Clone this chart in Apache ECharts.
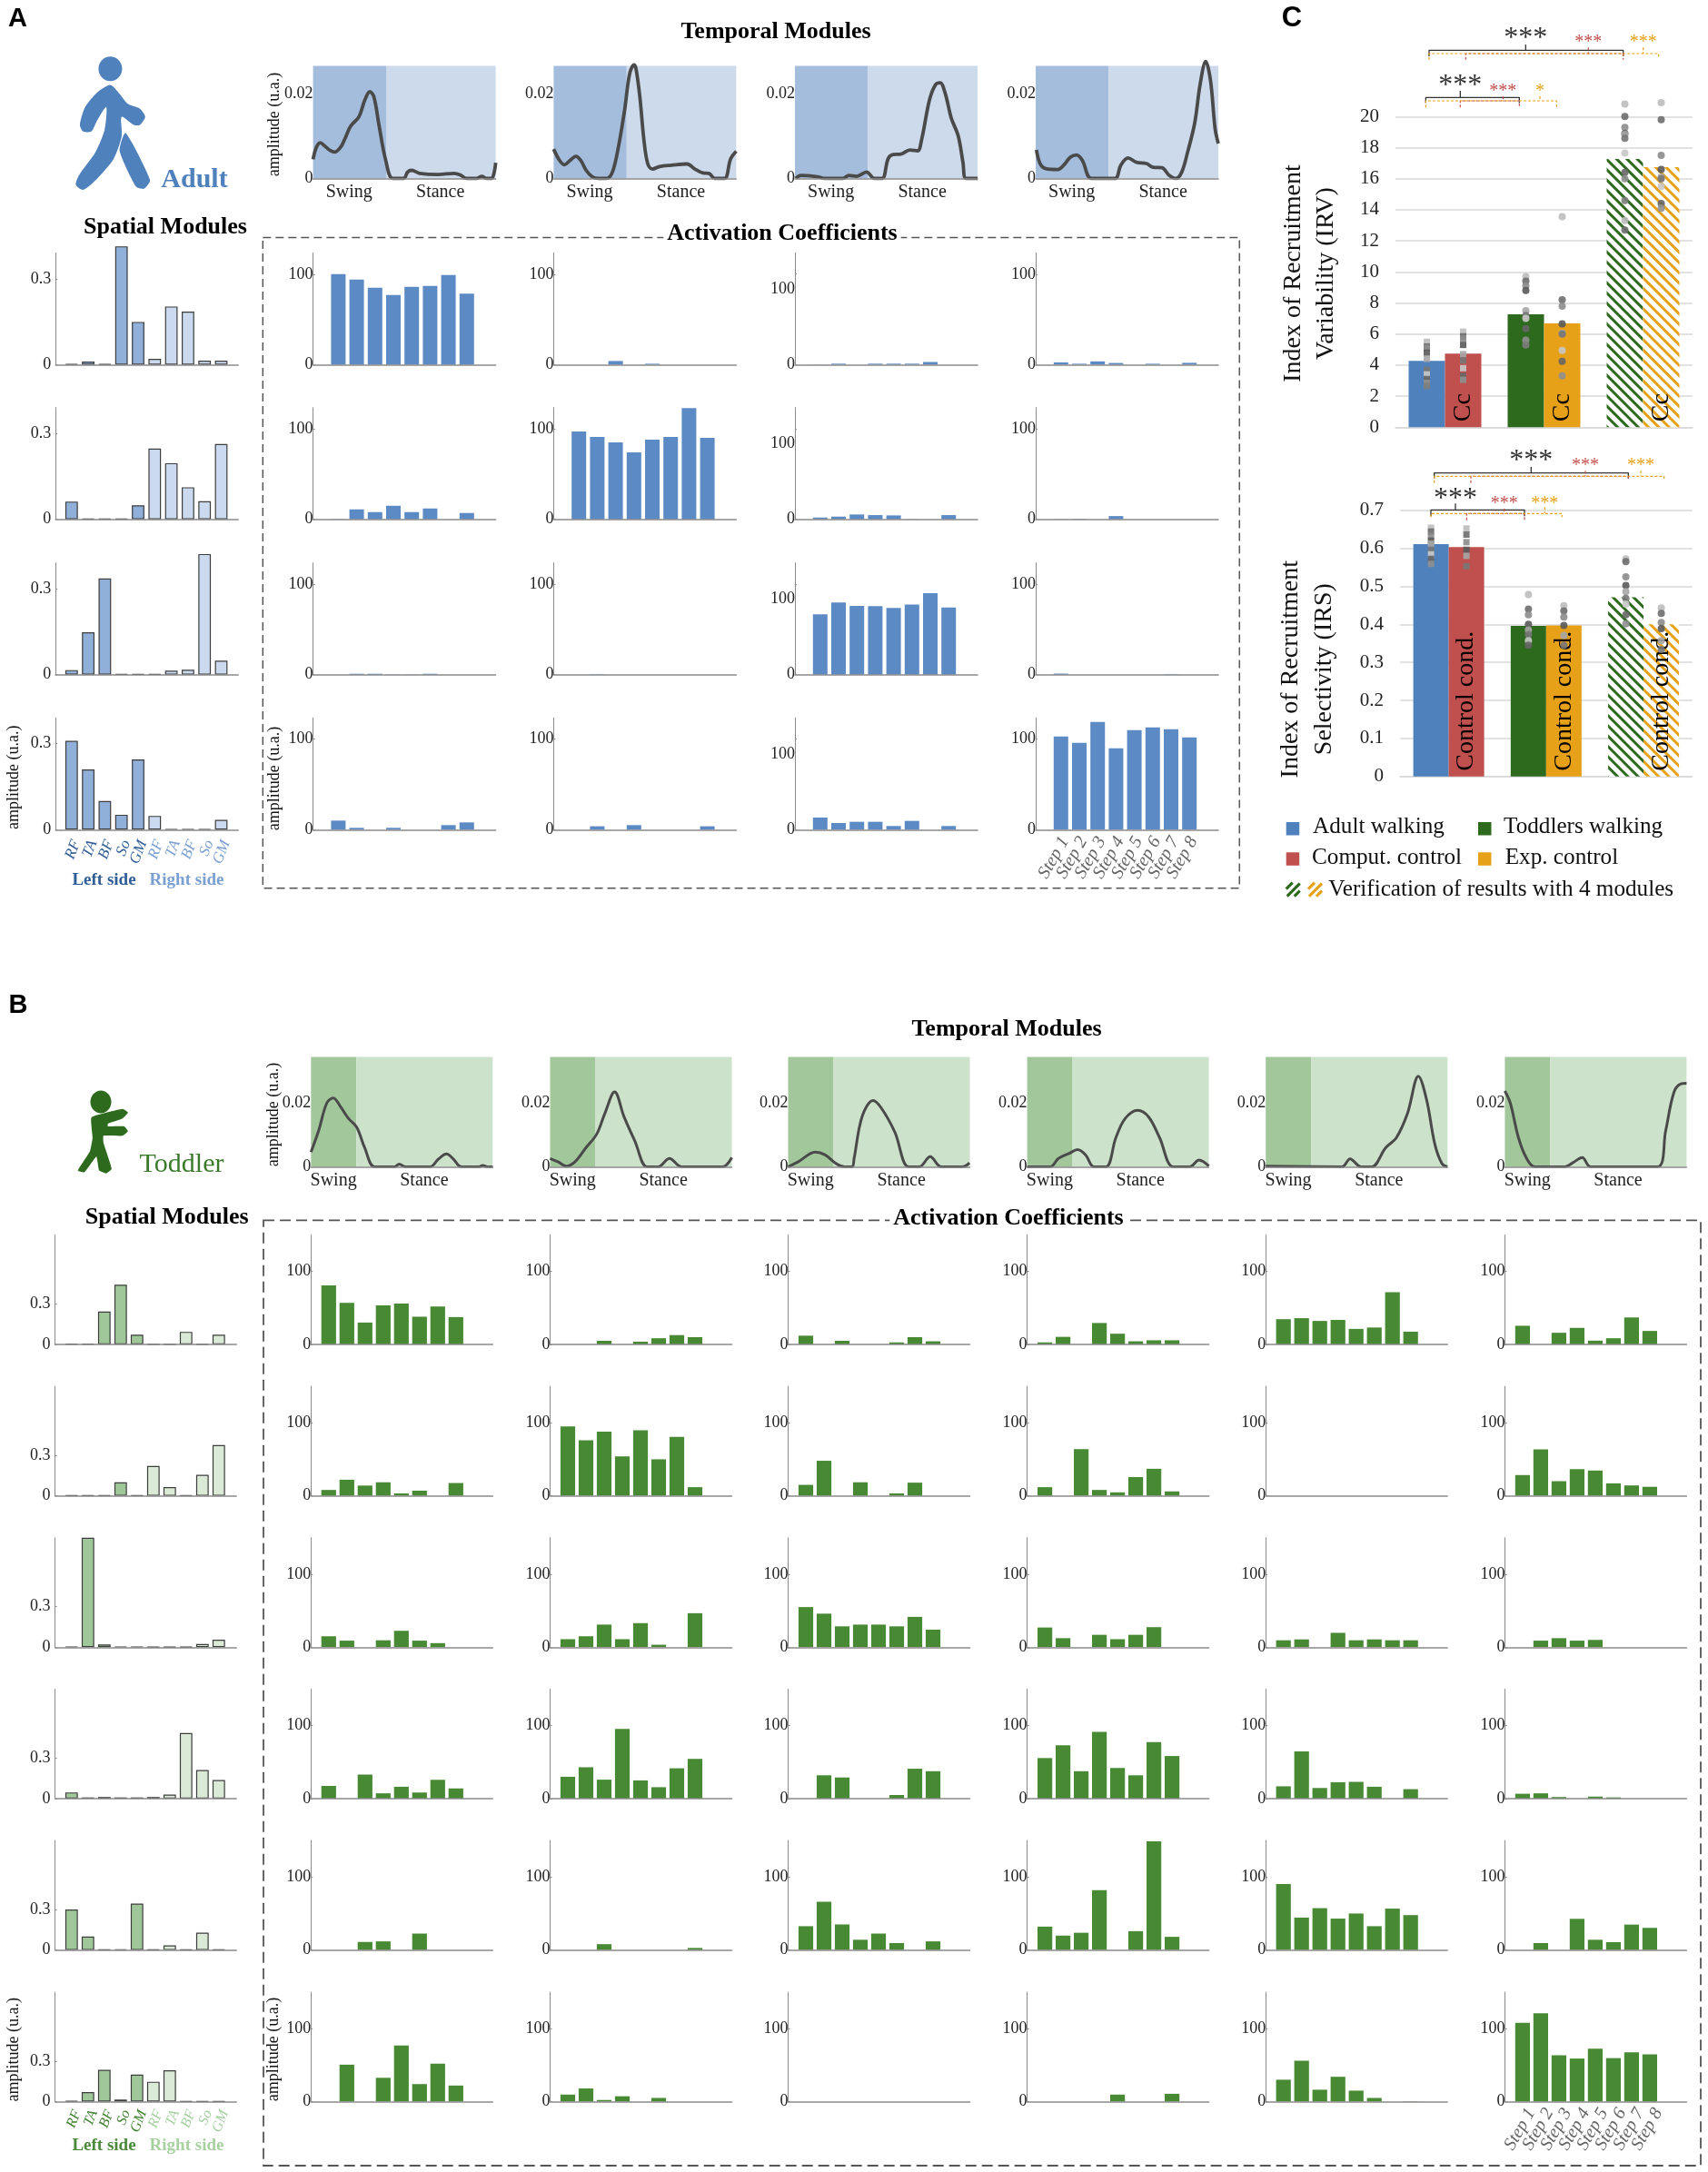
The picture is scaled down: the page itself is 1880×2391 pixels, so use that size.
<!DOCTYPE html>
<html><head><meta charset="utf-8">
<style>html,body{margin:0;padding:0;background:#fff}#c{width:1880px;height:2391px}</style>
<script src="https://cdn.jsdelivr.net/npm/echarts@6/dist/echarts.min.js"></script>
</head><body><div id="c"></div>
<script>
// ---------- DATA ----------
const muscleLabels = ['RF','TA','BF','So','GM','RF','TA','BF','So','GM'];
const stepLabels = ['Step 1','Step 2','Step 3','Step 4','Step 5','Step 6','Step 7','Step 8'];
const phaseLabels = ['Swing','Stance'];

const adultSpatial = [
 [.002,.011,.002,.413,.149,.02,.203,.185,.014,.014],
 [.062,.002,.002,.002,.049,.247,.196,.112,.063,.263],
 [.016,.148,.336,.002,.002,.002,.014,.017,.421,.049],
 [.31,.21,.1,.052,.245,.048,.002,.002,.002,.034]
];
const adultActivation = [
 [[100,94,85,77,86,87,99,78.5],[0,0,4,0,1,0,0,0],[.3,1.3,0,1.3,1.3,1.3,3.5,0],[2.5,1,3.6,1.8,0,1,0,2]],
 [[.5,11,8,15,8,12,0,7],[97,91,85,74,88,91,123,90],[2.4,3.6,6.4,5.6,5.2,.4,0,5.6],[.3,.6,0,3.6,0,0,0,0]],
 [[0,1,1,.3,.3,1,0,0],[0,.5,0,0,0,0,0,0],[80,95.6,91,90.8,88.4,93,108,89],[1.2,0,0,0,0,0,.5,0]],
 [[10,2,0,2,0,0,5,8],[0,3.7,0,5,0,0,0,3.7],[16,8.8,10.4,10.4,4.8,11.6,0,4.8],[103,96,119,90,110,113,111,102]]
];
// temporal curves: [% of gait cycle, amplitude x 1000]
const adultTemporal = [
 [[0,4.5],[1.8,7.3],[4,8.4],[6.2,7.7],[9.6,6.5],[11.8,6.2],[15,7.3],[17.3,9.2],[20.6,12.3],[25.1,14.5],[28.4,18.5],[31.1,20.4],[33.3,19.2],[36.2,12.3],[39.6,4.6],[43.6,0],[49.6,0],[51.8,1.5],[54,1.9],[58.4,1.2],[68.4,.9],[77.3,1.2],[80.7,.8],[84,0],[89.6,0],[92.4,.5],[95.1,0],[97.8,0],[100,3.7]],
 [[0,6.9],[3.3,4.2],[6,3.2],[8.9,4.2],[12.2,5.2],[14.9,4.2],[17.8,1.9],[21.1,.4],[24.4,0],[28.9,0],[32.2,1.5],[35.6,7.7],[38.9,16.2],[41.6,24.6],[44,26.7],[45.1,25.8],[47.2,19.2],[49.4,9.2],[51.5,3.5],[54.1,2.2],[58,2.8],[64.5,3.1],[73.1,3.4],[77.4,2.2],[81.8,1.3],[85,1.2],[88.2,0],[93.6,0],[96.9,4.6],[100,6.4]],
 [[.4,0],[3.2,.7],[12.3,.4],[16.6,0],[26.3,0],[29.5,.7],[33.8,.5],[39.2,1.5],[43.5,0],[47.8,0],[51,4.6],[53.7,5.6],[58,5.7],[62.9,6.7],[67.2,6.5],[69.4,9.2],[73.7,18.5],[76.9,22],[79.5,22.5],[82.3,20],[85.6,14.2],[89.4,10],[92,3.8],[93.7,0],[100,0]],
 [[.4,6.7],[2.4,3.5],[5.6,2.3],[12.1,2.1],[15.3,3.1],[19,5],[22.4,5.5],[25.6,4.2],[30.4,0],[43.4,0],[46.6,3.1],[50.6,4.8],[55.2,3.8],[60.6,3.5],[64.2,2.6],[69.2,2.5],[72.9,.8],[76.8,0],[80,1.5],[83.2,6.2],[87.1,13.1],[90.1,22.3],[93.1,27.5],[95.7,23.1],[98.3,11.5],[100,8.2]]
];
const toddlerSpatial = [
 [.005,.005,.243,.442,.072,.003,.003,.093,.003,.072],
 [.004,.004,.004,.1,.004,.22,.065,.004,.155,.375],
 [.004,.81,.021,.004,.004,.003,.003,.003,.024,.055],
 [.046,.009,.012,.009,.009,.012,.03,.486,.211,.138],
 [.3,.1,.004,.005,.343,.004,.034,.004,.128,.004],
 [.004,.07,.235,.015,.2,.147,.232,.003,.003,.003]
];
const toddlerActivation = [
 [[81,57,30,53.5,56,38,52,37.5],[0,0,5,0,3.8,8.5,12.8,10],[12,0,5,0,0,2.8,10,4.3],[2.8,10.4,0,29.4,14.7,4.3,5.7,5.7],[34.6,36,32.2,33.6,21.3,23.2,71.6,17.5],[25.6,0,16,22.7,5.2,8.5,37,18.5]],
 [[8,22,14,18.5,3.3,7,0,17.5],[95,76,88,54,89.6,50,80.6,11.8],[15,48,0,18.5,0,3.3,18,0],[11.8,0,64,8,4.7,25.6,37,6],[0,0,0,0,0,0,0,0],[28.4,63.5,20,36.5,34.6,17,14.2,12.3]],
 [[15,9,0,9.5,22.5,9,5.6,0],[11,15,31,11,33,3.4,0,46.6],[55,46,28.6,31,31,28.6,41.6,24],[27,12.4,0,17,11,17,27.5,0],[9.5,10.7,0,19.7,9.5,10.7,9.5,9.5],[0,9,12.4,9,10,0,0,0]],
 [[17.4,0,33,7.3,16.3,8.4,25.8,14],[30,43,26,95.5,25,15.7,41.6,54.5],[0,32,29,0,0,5,41,37.6],[55.6,73,37.6,91.6,42,32,77.5,58.4],[16.9,64.6,14.6,22.5,23,16.3,0,13],[6.7,7.3,2.2,0,2.8,1.7,0,0]],
 [[0,0,11,11.8,0,22.5,0,0],[0,0,8,0,0,0,0,2.8],[32.6,66,35,14,22.5,9.5,0,11.8],[32,19.7,23.6,82,0,25.8,149,18],[90.4,44.4,57.3,43,50,32.6,56.7,47.8],[0,9.5,0,42.7,14,10.7,34.8,30.3]],
 [[0,50.6,0,32.6,77,24,52,22],[9.6,18,2.2,7.3,0,5,0,0],[0,0,0,0,0,0,0,0],[0,0,0,0,9.6,0,0,10.7],[30,56,16.3,34,15,5,0,.5],[108,121,63.5,59,72.5,59.6,67.4,64.6]]
];
const toddlerTemporal = [
 [[0,4.6],[4.2,11.3],[8.7,20],[12.3,21.6],[16.2,18.9],[20.7,15.1],[25.2,12.4],[29.6,5.9],[35,0],[46.1,0],[48.5,.8],[52.1,0],[65.6,0],[70.1,2.4],[74.6,4],[78.1,2.6],[82.7,0],[92.5,0],[94.6,.4],[97,0],[100,0]],
 [[0,2.6],[4.5,1.5],[9,.2],[13.6,1.5],[19.6,5.9],[25.6,10.2],[30.1,16.7],[35.5,23.5],[40.7,15.7],[46.7,8],[53.3,0],[59.4,0],[65.7,2.6],[72.3,0],[94.9,0],[100,2.9]],
 [[0,0],[5.4,1.5],[15,4.6],[20.4,3.7],[26.4,1],[31,0],[35.2,0],[36.3,2.6],[40.7,15.7],[46.7,20.8],[51.2,18.5],[58.7,10.9],[66.2,0],[72.2,0],[78.2,3.2],[84.2,0],[96.2,0],[99.8,1.2]],
 [[0,0],[12.7,0],[17.2,2.6],[23.2,4.2],[27.7,5.4],[32.2,3.7],[36.7,0],[43.4,0],[48.8,9.1],[53.9,15.1],[60.8,17.7],[66.9,15.6],[72.9,9.1],[80.4,0],[89.5,0],[94.6,2.1],[100,.2]],
 [[0,.2],[41.9,0],[46.4,2.5],[52.4,0],[58.4,0],[65.9,5.9],[71.9,9.1],[78,16.7],[84,28.4],[88.5,21.1],[93.1,7],[97,1],[100,0]],
 [[0,23.8],[3,20],[7.5,9.1],[12,2.6],[16.5,0],[33,0],[37.5,1.3],[42.6,2.9],[47.1,0],[84,0],[88.5,11.3],[93,23.3],[96.9,26],[100,26.2]]
];
const irvGroups = ['Adult','Toddler','Toddler 4 modules'];
const irvWalking = [4.27,7.27,17.27];
const irvControl = [4.74,6.69,16.74];
const irvDots = [
 [5.5,5.2,5.1,4.8,4.4,3.7,3.4,3.1,2.85,2.65],
 [6.15,5.85,5.7,5.3,4.7,4.3,3.8,3.3,3.05],
 [9.7,9.4,9.1,8.8,7.5,7.2,7,6.35,5.6,5.3],
 [13.55,8.2,7.8,6.65,6.05,6,4.95,4.25,3.3],
 [20.8,20,19.3,18.9,18.85,18.6,17.65,16.4,16,14.6,13.3,12.7],
 [20.9,19.8,17.5,16.6,16.1,16,15.5,14.4,14.1]
];
const irsWalking = [.611,.396,.471];
const irsControl = [.603,.397,.4];
const irsDots = [
 [.654,.644,.632,.62,.612,.596,.584,.572,.559],
 [.652,.636,.616,.596,.58,.553],
 [.478,.44,.425,.4,.385,.373,.357,.345],
 [.449,.435,.419,.397,.371,.345],
 [.572,.565,.525,.502,.486,.468,.453,.425,.401],
 [.443,.429,.405,.389,.357,.334]
];

// ---------- STYLE ----------
const SERIF = '"Liberation Serif","Times New Roman",serif';
const SANS = '"Liberation Sans",Arial,sans-serif';
const BLUE='#4F81BD', RED='#C0504D', GREEN='#2D6A1E', ORANGE='#E6A118';
const grids=[],xAxes=[],yAxes=[],series=[],graphic=[];

function addGrid(left,base,w,h,xAxis,yAxis){
  const i=grids.length;
  grids.push({left,top:base-h,width:w,height:h});
  xAxes.push(Object.assign({gridIndex:i,type:'value',axisLine:{onZero:false,lineStyle:{color:'#8a8a8a',width:1.5}},axisTick:{show:false},axisLabel:{show:false},splitLine:{show:false}},xAxis));
  yAxes.push(Object.assign({gridIndex:i,type:'value',min:0,axisLine:{show:true,onZero:false,lineStyle:{color:'#8a8a8a',width:1}},splitLine:{show:false}},yAxis));
  return i;
}
function yLab(vals,margin,size){return {customValues:vals,margin:margin,fontFamily:SERIF,fontSize:size||18,color:'#222'};}

function temporal(curve,left,base,w,h,swingEnd,labPct,maxY,c1,c2,lw){
  const i=addGrid(left,base,w,h,{min:0,max:100,z:5,axisLabel:{show:true,customValues:labPct,fontFamily:SERIF,fontSize:20,color:'#222',margin:5,hideOverlap:false,showMinLabel:true,showMaxLabel:true,formatter:v=>v<labPct[1]?phaseLabels[0]:phaseLabels[1]}},
    {max:maxY,axisLine:{show:false,onZero:false},axisTick:{show:false},axisLabel:yLab([0,.02],0)});
  series.push({type:'line',xAxisIndex:i,yAxisIndex:i,data:curve.map(p=>[p[0],p[1]/1000]),symbol:'none',smooth:.35,clip:false,z:4,
    lineStyle:{color:'#4a4a4a',width:lw},
    markArea:{silent:true,z:1,data:[[{xAxis:0,itemStyle:{color:c1}},{xAxis:swingEnd}],[{xAxis:swingEnd,itemStyle:{color:c2}},{xAxis:100}]]}});
}
function bars(vals,left,base,w,h,pitch,offset,barW,maxY,tickVals,color,fillFn,border,lab){
  const min=-offset/pitch;
  const i=addGrid(left,base,w,h,{min:min,max:min+w/pitch,z:3},
    {max:maxY,axisTick:{show:true,inside:true,length:2,customValues:tickVals,lineStyle:{color:'#8a8a8a'}},axisLabel:yLab(lab,border?5:0)});
  series.push({type:'bar',xAxisIndex:i,yAxisIndex:i,barWidth:barW,clip:false,
    data:vals.map((v,k)=>({value:[k,v],itemStyle:{color:fillFn?fillFn(k):color,borderColor:border||undefined,borderWidth:border?1.2:0}}))});
  return i;
}
function axisText(i,labels,dx,dy,rot,size,colorFn){
  series.push({type:'scatter',xAxisIndex:i,yAxisIndex:i,symbol:'circle',symbolSize:1,clip:false,silent:true,itemStyle:{color:'transparent'},
    data:labels.map((t,k)=>({value:[k,0],label:{show:true,formatter:t,position:[dx,dy],rotate:rot,align:'right',verticalAlign:'middle',opacity:1,
      fontFamily:SERIF,fontStyle:'italic',fontSize:size,color:colorFn(k)}}))});
}
function T(text,x,y,o){o=o||{};
  graphic.push({type:'text',x:x,y:y,rotation:o.rot||0,z:o.z||20,silent:true,style:{text:text,x:0,y:0,align:o.align||'center',verticalAlign:'middle',
    fontFamily:o.family||SERIF,fontSize:o.size||18,fontWeight:o.weight||'normal',fill:o.color||'#111',backgroundColor:o.bg,padding:o.pad}});
}
function L(points,color,width,dash,z,cap){
  graphic.push({type:'polyline',z:z||15,silent:true,shape:{points:points},style:{stroke:color,lineWidth:width,lineDash:dash||null,fill:null,lineCap:cap||'butt',lineJoin:'round'}});
}
function E(cx,cy,rx,ry,color){graphic.push({type:'ellipse',z:15,silent:true,shape:{cx,cy,rx,ry},style:{fill:color}});}
function P(points,color,smooth){graphic.push({type:'polygon',z:15,silent:true,shape:{points,smooth:smooth||0},style:{fill:color}});}
function dashedBox(x1,y1,x2,y2,width,dash){
  graphic.push({type:'rect',z:10,silent:true,shape:{x:x1,y:y1,width:x2-x1,height:y2-y1},style:{fill:null,stroke:'#555',lineWidth:width,lineDash:dash}});
}

// ---------- PANEL A ----------
const aCols=[344.6,609.4,875,1140], aBases=[401.4,571.7,742.7,913.3];
adultTemporal.forEach((c,j)=>temporal(c,aCols[j],196.4,201,124,40,[19.7,69.7],.0265,'#A4BDDD','#CCDAEC',3.8));
adultSpatial.forEach((r,k)=>{
  const i=bars(r,61.2,aBases[k],201,123,18.3,17.6,13.8,.39,[0,.3],null,n=>n<5?'#90AFD9':'#CBDAEE','#3d3d3d',[0,.3]);
  if(k===3) axisText(i,muscleLabels,6,13,68,17,n=>n<5?'#2F5D95':'#7AA0D2');
});
adultActivation.forEach((r,k)=>r.forEach((v,j)=>{
  const max=j===2?148:123.5;
  const i=bars(v,aCols[j],aBases[k],201,123,20.2,27.8,16,max,[0,j===2?120:100],'#5C8AC4',null,null,[0,100]);
  if(k===3&&j===3) axisText(i,stepLabels,5,10,60,20,()=>'#666');
}));
T('A',19.5,21,{family:SANS,weight:'bold',size:29,color:'#000'});
T('Temporal Modules',854,35.5,{weight:'bold',size:26,color:'#000'});
T('Spatial Modules',182,250.5,{weight:'bold',size:26,color:'#000'});
T('Activation Coefficients',861,257,{weight:'bold',size:26,color:'#000',bg:'#fff',pad:[0,4]});
T('Adult',214,198,{weight:'bold',size:30,color:BLUE});
T('amplitude (u.a.)',302.7,137,{rot:Math.PI/2,size:18});
T('amplitude (u.a.)',15.6,855.8,{rot:Math.PI/2,size:18});
T('amplitude (u.a.)',302,857,{rot:Math.PI/2,size:18,bg:'#fff'});
T('Left side',114.5,969.3,{weight:'bold',size:19,color:'#2F5D95'});
T('Right side',205.5,969.3,{weight:'bold',size:19,color:'#7AA0D2'});
dashedBox(289.3,261.4,1364.3,977.7,1.5,[9,5]);
// adult icon (outline traced in the figure's own pixel frame)
const Ax=p=>p.map(q=>[q[0]/2.24,q[1]/2.8]);
E(121.4,75.7,13,13.5,BLUE);
P(Ax([[272,262],[295,290],[315,320],[345,335],[358,360],[345,385],[330,385],[300,360],[300,420],[280,490],[240,550],[205,585],[187,570],[195,540],[235,470],[258,400],[262,330],[240,370],[225,405],[205,405],[197,385],[210,330],[240,285]]),BLUE,.25);
P(Ax([[310,410],[370,555],[355,582],[335,575],[295,465]]),BLUE,.2);

// ---------- PANEL B ----------
const bCols=[342.3,605.5,867.5,1130.6,1393.2,1656.4], bBases=[1480,1646.6,1813.3,1980,2146.6,2313.5];
toddlerTemporal.forEach((c,j)=>temporal(c,bCols[j],1284.4,200,121,25,[12.4,62.3],.0345,'#A1C79B','#CDE2CB',3));
toddlerSpatial.forEach((r,k)=>{
  const i=bars(r,60.6,bBases[k],199.6,120.5,18,18.2,13.8,.81,[0,.3],null,n=>n<5?'#A0C79A':'#DAEAD6','#3d3d3d',[0,.3]);
  if(k===5) axisText(i,muscleLabels,7,10.5,68,16,n=>n<5?'#3F8030':'#A5CFA0');
});
toddlerActivation.forEach((r,k)=>r.forEach((v,j)=>{
  const i=bars(v,bCols[j],bBases[k],200,120.5,20,19.5,16.2,150,[0,100],'#478A33',null,null,[0,100]);
  if(k===5&&j===5) axisText(i,stepLabels,10,9.5,60,20,()=>'#666');
}));
T('B',20,1106.5,{family:SANS,weight:'bold',size:29,color:'#000'});
T('Temporal Modules',1108,1133,{weight:'bold',size:26,color:'#000'});
T('Spatial Modules',183.7,1340,{weight:'bold',size:26,color:'#000'});
T('Activation Coefficients',1110,1341.5,{weight:'bold',size:26,color:'#000',bg:'#fff',pad:[0,4]});
T('Toddler',200,1282,{size:30,color:'#3A7A2A'});
T('amplitude (u.a.)',301.6,1227,{rot:Math.PI/2,size:18});
T('amplitude (u.a.)',15,2256.3,{rot:Math.PI/2,size:18});
T('amplitude (u.a.)',301.6,2256,{rot:Math.PI/2,size:18,bg:'#fff'});
T('Left side',114.5,2362.5,{weight:'bold',size:19,color:'#4A8A3A'});
T('Right side',205.5,2362.5,{weight:'bold',size:19,color:'#A8D0A0'});
dashedBox(290,1343.3,1872,2384,1.8,[12,6]);
// toddler icon
const Tx=p=>p.map(q=>[q[0]/1.668,q[1]/2.613+1080]);
E(111,1213,11.5,12.5,GREEN);
P(Tx([[168,392],[225,368],[235,378],[225,395],[198,410],[198,418],[228,418],[235,432],[225,445],[190,445],[190,465],[205,540],[195,553],[182,545],[177,505],[155,550],[143,545],[165,490],[170,450]]),GREEN,.12);

// ---------- PANEL C ----------
function hatch(c){return {color:'#fff',decal:{symbol:'rect',color:c,backgroundColor:'#fff',dashArrayX:[1,0],dashArrayY:[3,4.1],rotation:Math.PI/4}};}
function groupChart(left,base,w,h,barW,walking,control,dots,maxY,interval,ctl){
  const i=grids.length;
  grids.push({left,top:base-h,width:w,height:h});
  xAxes.push({gridIndex:i,type:'category',data:irvGroups,axisLine:{lineStyle:{color:'#d9d9d9',width:1.5}},axisTick:{show:false},axisLabel:{show:false}});
  yAxes.push({gridIndex:i,type:'value',min:0,max:maxY,interval,axisLine:{show:false},axisTick:{show:false},splitLine:{lineStyle:{color:'#d9d9d9',width:1.5}},
    axisLabel:{fontFamily:SERIF,fontSize:21,color:'#222',margin:18}});
  const wStyle=[{color:BLUE},{color:GREEN},hatch(GREEN)], cStyle=[{color:RED},{color:ORANGE},hatch(ORANGE)];
  series.push({type:'bar',name:'walking',xAxisIndex:i,yAxisIndex:i,barWidth:barW,barGap:0,z:2,data:walking.map((v,k)=>({value:v,itemStyle:wStyle[k]}))});
  series.push({type:'bar',name:'control',xAxisIndex:i,yAxisIndex:i,barWidth:barW,barGap:0,z:2,
    data:control.map((v,k)=>({value:v,itemStyle:cStyle[k]})),
    label:{show:true,formatter:ctl,position:'insideBottom',rotate:90,align:'left',verticalAlign:'middle',distance:6,fontFamily:SERIF,fontSize:28,color:'#000'}});
  // hidden numeric x axis for the dots
  const xi=xAxes.length;
  grids.push({left,top:base-h,width:w,height:h});
  xAxes.push({gridIndex:i+1,type:'value',min:0,max:3,show:false});
  yAxes.push({gridIndex:i+1,type:'value',min:0,max:maxY,show:false});
  const shades=['#bdbdbd','#6e6e6e','#8c8c8c','#5a5a5a','#a6a6a6','#777','#c8c8c8','#666','#909090','#7d7d7d'];
  const half=barW/2/(w/3);
  dots.forEach((arr,g)=>{
    const cx=Math.floor(g/2)+.5+(g%2?half:-half);
    series.push({type:'scatter',xAxisIndex:xi,yAxisIndex:xi,clip:false,z:4,silent:true,symbol:g<2?'rect':'circle',symbolSize:g<2?[7,7]:8,
      data:arr.map((v,n)=>({value:[cx,v],itemStyle:{color:shades[n%shades.length],opacity:.9}}))});
  });
}
groupChart(1536,470.3,327,342,40,irvWalking,irvControl,irvDots,20,2,'Cc');
groupChart(1541,854.7,321.7,293,39,irsWalking,irsControl,irsDots,.7,.1,'Control cond.');

T('C',1422,20.5,{family:SANS,weight:'bold',size:31,color:'#000'});
T('Index of Recruitment',1424,301,{rot:Math.PI/2,size:28});
T('Variability (IRV)',1460,301,{rot:Math.PI/2,size:28});
T('Index of Recruitment',1421,736.7,{rot:Math.PI/2,size:28});
T('Selectivity (IRS)',1457.5,736.7,{rot:Math.PI/2,size:28});

function bracket(ox,oy,color,dash,lw,x1,x2,y,xc,yc,d1,d2,stars,sy,size){
  const Q=(x,yy)=>[ox+x/3,oy+yy/3];
  L([Q(x1,d1),Q(x1,y),Q(x2,y),Q(x2,d2)],color,lw,dash,16);
  L([Q(xc,yc),Q(xc,y)],color,lw,dash,16);
  const s=Q(xc,sy); T(stars,s[0],s[1],{size,color});
}
const blk='#333',ds=[3,2];
bracket(1380,0,blk,null,1.3,579,1220,166,898,147,186,186,'***',128,32);
bracket(1380,0,RED,ds,1.2,700,1220,177,1105,157,197,197,'***',140,20);
bracket(1380,0,ORANGE,ds,1.2,579,1337,177,1286,157,197,187,'***',140,20);
bracket(1380,0,blk,null,1.3,568,877,322,682,300,340,340,'***',283,32);
bracket(1380,0,RED,ds,1.2,682,877,333,823,318,355,355,'***',302,20);
bracket(1380,0,ORANGE,ds,1.2,568,1000,333,945,318,355,355,'*',302,20);
bracket(1380,490,blk,null,1.3,596,1237,92,916,72,110,110,'***',54,32);
bracket(1380,490,RED,ds,1.2,717,1237,103,1095,85,125,115,'***',69,20);
bracket(1380,490,ORANGE,ds,1.2,596,1355,103,1278,85,125,115,'***',69,20);
bracket(1380,490,blk,null,1.3,585,894,214,666,193,235,235,'***',180,32);
bracket(1380,490,RED,ds,1.2,703,894,226,827,210,248,248,'***',194,20);
bracket(1380,490,ORANGE,ds,1.2,585,1018,226,961,205,238,238,'***',194,20);

// legend
function sq(x,y,c){graphic.push({type:'rect',z:15,silent:true,shape:{x,y,width:14.5,height:14.5},style:{fill:c}});}
function hsq(x,y,c){
  [[0,7,7,0],[1,15,15,1],[9,15,15,9]].forEach(s=>L([[x+s[0],y+s[1]],[x+s[2],y+s[3]]],c,3.2,null,15));
}
sq(1415.7,905,BLUE); T('Adult walking',1445,910.7,{align:'left',size:25.2});
sq(1627,905,GREEN); T('Toddlers walking',1655,910.7,{align:'left',size:25.2});
sq(1415.7,938.3,RED); T('Comput. control',1444,944.5,{align:'left',size:25.2});
sq(1627,938.3,ORANGE); T('Exp. control',1656.7,944.5,{align:'left',size:25.2});
hsq(1415.7,971.7,GREEN); hsq(1440,971.7,ORANGE);
T('Verification of results with 4 modules',1462.3,979.3,{align:'left',size:25.2});

const chart=echarts.init(document.getElementById('c'),null,{width:1880,height:2391});
chart.setOption({animation:false,backgroundColor:'#fff',grid:grids,xAxis:xAxes,yAxis:yAxes,series:series,graphic:{elements:graphic}});
</script></body></html>
